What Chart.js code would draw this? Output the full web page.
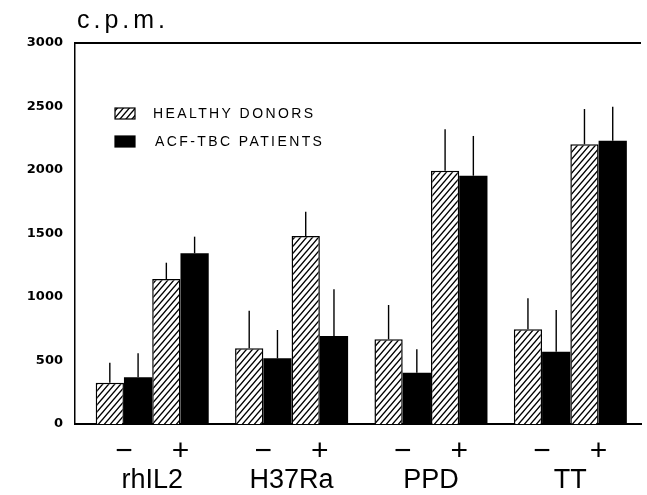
<!DOCTYPE html>
<html>
<head>
<meta charset="utf-8">
<title>c.p.m.</title>
<script src="https://cdn.jsdelivr.net/npm/chart.js@4.4.1/dist/chart.umd.min.js"></script>
<style>
  body { margin: 0; background: #fff; }
  .chart-container { position: relative; width: 647px; height: 495px; }
</style>
</head>
<body>
<div class="chart-container">
  <canvas id="chart"></canvas>
</div>
<script>
const stimuli = ['rhIL2', 'H37Ra', 'PPD', 'TT'];
const yTicks = [0, 500, 1000, 1500, 2000, 2500, 3000];
const legendLabels = ['HEALTHY DONORS', 'ACF-TBC PATIENTS'];

// mean c.p.m. without (-) and with (+) the stimulus
const healthyMinus = [325, 596, 667, 746];
const patientsMinus = [368, 517, 404, 569];
const healthyPlus = [1142, 1480, 1995, 2202];
const patientsPlus = [1344, 693, 1955, 2231];

// upper error bars
const healthyMinusErr = [158, 296, 270, 244];
const patientsMinusErr = [189, 223, 184, 329];
const healthyPlusErr = [128, 192, 325, 278];
const patientsPlusErr = [131, 368, 313, 267];

const sans = '"Liberation Sans", Arial, sans-serif';

function makeHatch() {
  const c = document.createElement('canvas');
  c.width = 6;
  c.height = 7;
  const p = c.getContext('2d');
  p.fillStyle = '#fff';
  p.fillRect(0, 0, 6, 7);
  p.strokeStyle = '#000';
  p.lineWidth = 1.4;
  p.beginPath();
  p.moveTo(-6, 7); p.lineTo(6, -7);
  p.moveTo(0, 7); p.lineTo(6, 0);
  p.moveTo(0, 14); p.lineTo(12, 0);
  p.stroke();
  return p.createPattern(c, 'repeat');
}

const hatch = makeHatch();

function toPoints(values) {
  return values.map((v, i) => ({ x: i, y: v }));
}

const errorBars = {
  id: 'errorBars',
  afterDatasetsDraw(chart) {
    const { ctx, scales: { y } } = chart;
    ctx.save();
    ctx.strokeStyle = '#000';
    ctx.lineWidth = 1.4;
    chart.data.datasets.forEach((ds, d) => {
      chart.getDatasetMeta(d).data.forEach((bar, i) => {
        const v = ds.data[i].y;
        ctx.beginPath();
        ctx.moveTo(bar.x, y.getPixelForValue(v));
        ctx.lineTo(bar.x, y.getPixelForValue(v + ds.err[i]));
        ctx.stroke();
      });
    });
    ctx.restore();
  }
};

const decorations = {
  id: 'decorations',
  afterDraw(chart) {
    const { ctx, chartArea: a } = chart;
    ctx.save();

    // top edge of the frame
    ctx.strokeStyle = '#000';
    ctx.lineWidth = 2;
    ctx.beginPath();
    ctx.moveTo(a.left - 1, a.top);
    ctx.lineTo(a.right, a.top);
    ctx.stroke();

    ctx.fillStyle = '#000';
    ctx.font = '25px ' + sans;
    ctx.letterSpacing = '4px';
    ctx.textBaseline = 'alphabetic';
    ctx.fillText('c.p.m.', a.left + 2, 28);

    // legend
    ctx.font = '14px ' + sans;
    ctx.letterSpacing = '2.4px';
    ctx.textBaseline = 'middle';
    const fills = [hatch, '#000'];
    legendLabels.forEach((text, k) => {
      const top = a.top + 65 + k * 28;
      ctx.fillStyle = fills[k];
      ctx.fillRect(a.left + 40, top, 20, 11);
      ctx.lineWidth = 1.2;
      ctx.strokeRect(a.left + 40, top, 20, 11);
      ctx.fillStyle = '#000';
      ctx.fillText(text, a.left + 78 + k * 2, top + 6);
    });

    // - / + under each pair of bars
    ctx.font = '30px ' + sans;
    ctx.letterSpacing = '0px';
    ctx.textAlign = 'center';
    const m = [0, 1, 2, 3].map(d => chart.getDatasetMeta(d).data);
    stimuli.forEach((s, i) => {
      ctx.fillText('\u2212', (m[0][i].x + m[1][i].x) / 2, a.bottom + 28);
      ctx.fillText('+', (m[2][i].x + m[3][i].x) / 2, a.bottom + 28);
    });
    ctx.restore();
  }
};

const ctx = document.getElementById('chart');

new Chart(ctx, {
  type: 'bar',
  data: {
    datasets: [
      { label: legendLabels[0], data: toPoints(healthyMinus), err: healthyMinusErr, backgroundColor: hatch, borderColor: '#000', borderWidth: 1.5 },
      { label: legendLabels[1], data: toPoints(patientsMinus), err: patientsMinusErr, backgroundColor: '#000', borderColor: '#000', borderWidth: 0 },
      { label: legendLabels[0], data: toPoints(healthyPlus), err: healthyPlusErr, backgroundColor: hatch, borderColor: '#000', borderWidth: 1.5 },
      { label: legendLabels[1], data: toPoints(patientsPlus), err: patientsPlusErr, backgroundColor: '#000', borderColor: '#000', borderWidth: 0 }
    ]
  },
  options: {
    responsive: true,
    maintainAspectRatio: false,
    animation: false,
    layout: { padding: { top: 43, right: 6, left: 0, bottom: 0 } },
    plugins: {
      legend: { display: false },
      tooltip: { enabled: false }
    },
    datasets: {
      bar: { barPercentage: 1, categoryPercentage: 0.811 }
    },
    scales: {
      x: {
        type: 'linear',
        offset: false,
        min: -0.554,
        max: 3.507,
        afterBuildTicks: (axis) => { axis.ticks = stimuli.map((s, i) => ({ value: i })); },
        afterFit: (axis) => { axis.height = 71; },
        grid: { display: false, drawTicks: false },
        border: { color: '#000', width: 2 },
        ticks: {
          autoSkip: false,
          maxRotation: 0,
          padding: 40,
          color: '#000',
          font: { family: sans, size: 27 },
          callback: (v) => stimuli[v]
        }
      },
      y: {
        min: 0,
        max: 3000,
        afterBuildTicks: (axis) => { axis.ticks = yTicks.map(v => ({ value: v })); },
        afterFit: (axis) => { axis.width = 75; },
        grid: { display: false, drawTicks: false },
        border: { color: '#000', width: 1.5 },
        ticks: {
          padding: 12,
          color: '#000',
          font: { family: '"DejaVu Sans", sans-serif', size: 13, weight: 'bold' },
          callback: (v) => String(v)
        }
      }
    }
  },
  plugins: [errorBars, decorations]
});
</script>
</body>
</html>
